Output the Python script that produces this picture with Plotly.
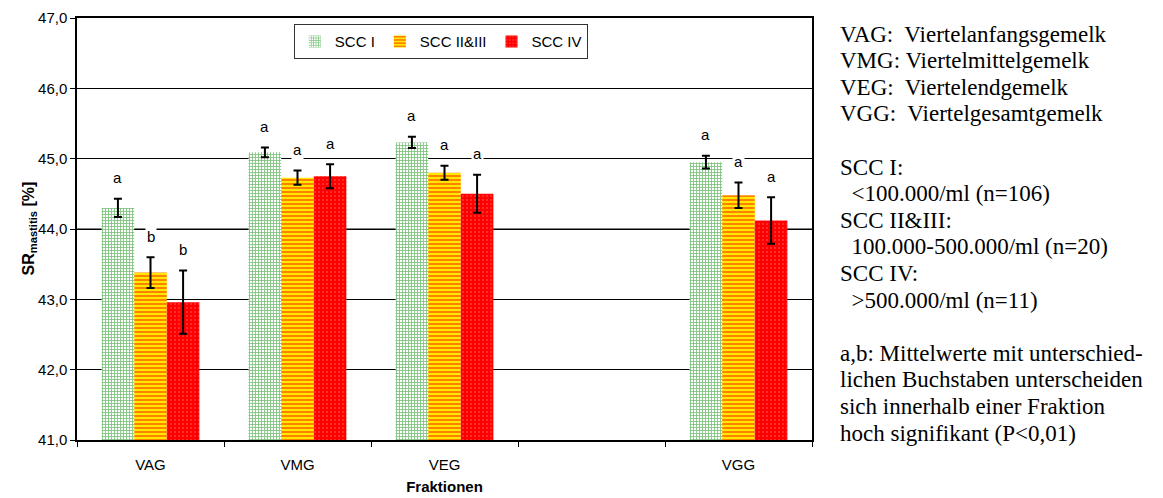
import plotly.graph_objects as go

categories = ["VAG", "VMG", "VEG", " ", "VGG"]
series_names = ["SCC I", "SCC II&III", "SCC IV"]
scc1 = [44.30, 45.09, 45.23, None, 44.95]
err1 = [0.13, 0.07, 0.08, None, 0.09]
scc23 = [43.38, 44.73, 44.80, None, 44.48]
err23 = [0.22, 0.10, 0.10, None, 0.18]
scc4 = [42.96, 44.75, 44.50, None, 44.12]
err4 = [0.45, 0.17, 0.27, None, 0.33]
letters1 = ["a", "a", "a", None, "a"]
letters23 = ["b", "a", "a", None, "a"]
letters4 = ["b", "a", "a", None, "a"]
y_ticks = [41, 42, 43, 44, 45, 46, 47]

values = [scc1, scc23, scc4]
errors = [err1, err23, err4]
letters = [letters1, letters23, letters4]

styles = [
    dict(color="white", pattern=dict(shape="+", fgcolor="#008800", bgcolor="white", size=3, solidity=0.5)),
    dict(color="#FFE800", pattern=dict(shape="-", fgcolor="#FF1A00", bgcolor="#FFE800", size=4, solidity=0.5)),
    dict(color="#FF0000", pattern=dict(shape=".", fgcolor="#FFC8C8", bgcolor="#FF0000", size=4, solidity=0.12)),
]

fig = go.Figure()
for name, v, e, st in zip(series_names, values, errors, styles):
    fig.add_trace(go.Bar(
        x=categories, y=v, name=name,
        marker=dict(color=st["color"], pattern=st["pattern"], line=dict(width=0)),
        error_y=dict(type="data", array=e, visible=True, color="black", thickness=2, width=4),
    ))

bargap = 0.335
bw = (1 - bargap) / 3
annotations = []
for j, (v, e, L) in enumerate(zip(values, errors, letters)):
    for i, (vv, ee, ll) in enumerate(zip(v, e, L)):
        if vv is None:
            continue
        annotations.append(dict(
            x=i + (j - 1) * bw, y=vv + ee + 0.3, xref="x", yref="y",
            text=ll, showarrow=False, font=dict(family="Arial", size=15, color="black"),
            bgcolor="white", borderpad=1, yanchor="middle",
        ))

# y axis title
annotations.append(dict(
    x=-0.0816, y=0.5, xref="paper", yref="paper", textangle=-90,
    text="<b>SR<sub>mastitis</sub> [%]</b>", showarrow=False,
    font=dict(family="Arial", size=16, color="black"),
))

side_lines = [
    "VAG:\u00a0 Viertelanfangsgemelk",
    "VMG: Viertelmittelgemelk",
    "VEG:\u00a0 Viertelendgemelk",
    "VGG:\u00a0 Viertelgesamtgemelk",
    "",
    "SCC I:",
    "\u00a0 &lt;100.000/ml (n=106)",
    "SCC II&amp;III:",
    "\u00a0 100.000-500.000/ml (n=20)",
    "SCC IV:",
    "\u00a0 &gt;500.000/ml (n=11)",
    "",
    "a,b: Mittelwerte mit unterschied-",
    "lichen Buchstaben unterscheiden",
    "sich innerhalb einer Fraktion",
    "hoch signifikant (P&lt;0,01)",
]
line_step = 26.6
first_line = 34 - 18  # px below plot top
for k, line in enumerate(side_lines):
    if not line:
        continue
    annotations.append(dict(
        x=1.0, y=1.0, xref="paper", yref="paper", xanchor="left", yanchor="middle",
        xshift=26, yshift=-(first_line + k * line_step), align="left",
        text=line, showarrow=False,
        font=dict(family="Liberation Serif", size=23, color="black"),
    ))

fig.add_shape(type="line", xref="paper", yref="y", x0=0, x1=1, y0=y_ticks[3], y1=y_ticks[3],
              line=dict(color="#808080", width=2), layer="below")

fig.update_layout(
    width=1163, height=498,
    margin=dict(l=77, r=351, t=18, b=58),
    paper_bgcolor="white", plot_bgcolor="white",
    separators=",.",
    barmode="group", bargap=bargap, bargroupgap=0,
    font=dict(family="Arial", size=15, color="black"),
    showlegend=True,
    legend=dict(
        orientation="h", x=0.495, y=0.985, xanchor="center", yanchor="top",
        bgcolor="white", bordercolor="#333333", borderwidth=1,
        font=dict(family="Arial", size=15, color="black"),
        itemwidth=30,
    ),
    annotations=annotations,
)
fig.update_xaxes(
    type="category", categoryorder="array", categoryarray=categories,
    tickson="boundaries", ticks="outside", ticklen=5, tickcolor="black",
    showline=True, linecolor="black", linewidth=1.5, mirror=True,
    showgrid=False, ticklabelstandoff=10, automargin=False,
    tickfont=dict(family="Arial", size=15, color="black"),
    title=dict(text="<b>Fraktionen</b>", font=dict(family="Arial", size=15, color="black"), standoff=10),
)
fig.update_yaxes(
    range=[41, 47], tickvals=y_ticks, tickformat=".1f",
    ticks="outside", ticklen=5, tickcolor="black",
    showline=True, linecolor="black", linewidth=1.5, mirror=True,
    showgrid=True, gridcolor="black", gridwidth=1, automargin=False,
    tickfont=dict(family="Arial", size=15, color="black"),
    zeroline=False,
)

fig.write_html("out.html", config={"displayModeBar": False},
               post_script="document.body.style.margin='0';document.body.style.overflow='hidden';")
